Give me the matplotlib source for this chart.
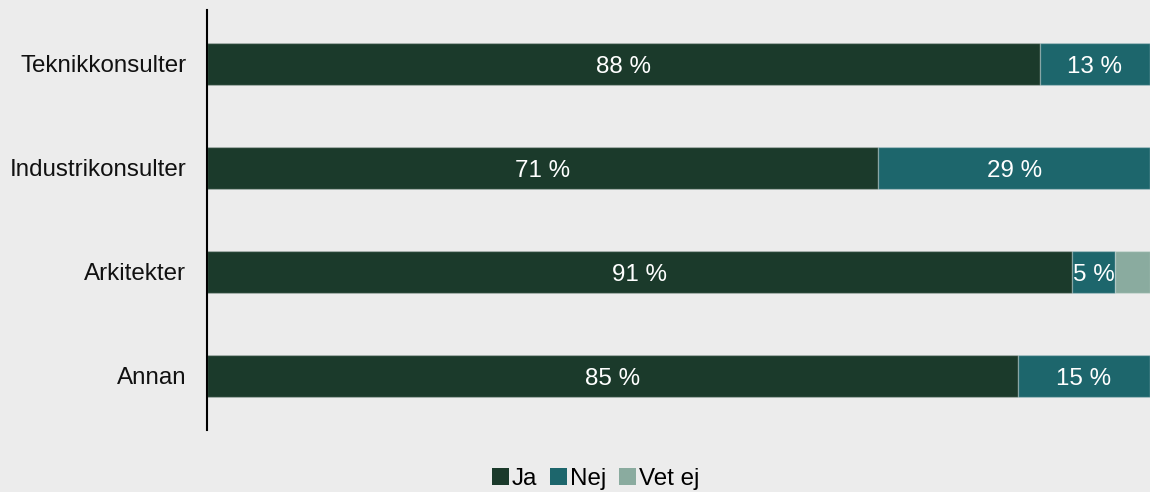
import matplotlib
matplotlib.use("Agg")
import matplotlib.pyplot as plt
from matplotlib.patches import Patch

plt.rcParams['font.family'] = ['Liberation Sans', 'DejaVu Sans']

categories = ["Teknikkonsulter", "Industrikonsulter", "Arkitekter", "Annan"]
series_names = ["Ja", "Nej", "Vet ej"]
ja = [88.3, 71.2, 91.7, 86.0]
nej = [11.7, 28.8, 4.6, 14.0]
vet_ej = [0.0, 0.0, 3.7, 0.0]
ja_labels = ["88 %", "71 %", "91 %", "85 %"]
nej_labels = ["13 %", "29 %", "5 %", "15 %"]
vet_ej_labels = ["", "", "", ""]

colors = ["#1b3a2b", "#1d666c", "#8aab9f"]
bg = "#ececec"
fs = 17.4

fig = plt.figure(figsize=(11.5, 4.92), dpi=100, facecolor=bg)
ax = fig.add_axes([0.18, 0.126, 0.82, 0.854], facecolor=bg)

y = list(range(len(categories)))
left = [0.0] * len(categories)
for vals, labs, col in zip([ja, nej, vet_ej], [ja_labels, nej_labels, vet_ej_labels], colors):
    bars = ax.barh(y, vals, left=left, height=0.4, color=col,
                   edgecolor=(1, 1, 1, 0.25), linewidth=1)
    for b, lab in zip(bars, labs):
        if lab:
            ax.text(b.get_x() + b.get_width() / 2, b.get_y() + b.get_height() / 2 + 0.03,
                    lab, ha='center', va='center', color='white', fontsize=fs)
    left = [l + v for l, v in zip(left, vals)]

ax.set_xlim(0, 100)
ax.set_ylim(3.52, -0.52)
ax.set_yticks(y)
ax.set_yticklabels(categories, fontsize=fs, color='#111111')
ax.tick_params(axis='y', length=0, pad=15)
ax.set_xticks([])
for s in ['top', 'right', 'bottom']:
    ax.spines[s].set_visible(False)
ax.spines['left'].set_color('black')
ax.spines['left'].set_linewidth(1.5)

handles = [Patch(facecolor=c, edgecolor='none') for c in colors]
fig.legend(handles, series_names, loc='center', bbox_to_anchor=(0.518, 0.027),
           ncol=3, frameon=False, fontsize=fs, handlelength=0.7, handleheight=0.7,
           handletextpad=0.1, columnspacing=0.55)

fig.savefig("out.png", dpi=100, facecolor=bg)
